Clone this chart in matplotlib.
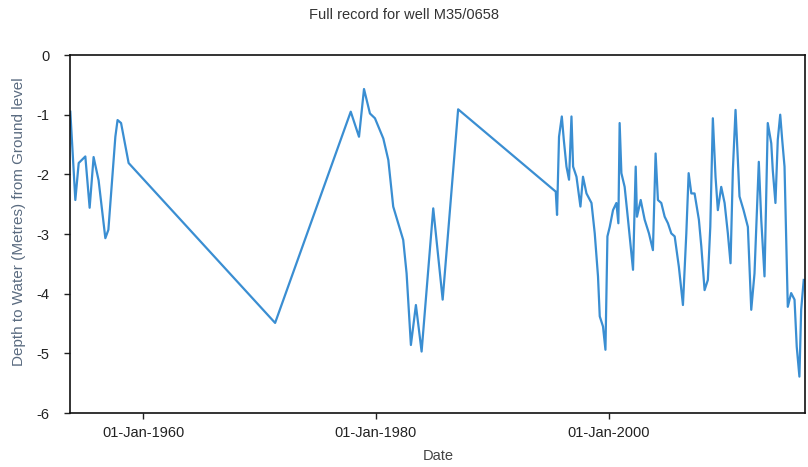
import matplotlib
matplotlib.use("Agg")
import matplotlib.pyplot as plt

# decimal years
years = [1953.73, 1954.16, 1954.45, 1955.02, 1955.39, 1955.73, 1956.16, 1956.74,
         1957.00, 1957.60, 1957.79, 1958.09, 1958.74,
         1971.33,
         1977.83, 1978.54, 1978.97, 1979.48, 1979.91, 1980.63, 1981.06, 1981.48,
         1982.34, 1982.63, 1983.00, 1983.43, 1983.92, 1984.92, 1985.73, 1987.06,
         1995.45, 1995.56, 1995.73, 1995.97, 1996.14, 1996.37, 1996.59, 1996.80,
         1996.94, 1997.23, 1997.57, 1997.79, 1998.09, 1998.52, 1998.80, 1999.08,
         1999.23, 1999.51, 1999.72, 1999.89, 2000.09, 2000.37, 2000.66, 2000.83,
         2000.94, 2001.09, 2001.37, 2001.66, 2002.09, 2002.32, 2002.43, 2002.75,
         2003.09, 2003.46, 2003.80, 2004.03, 2004.23, 2004.52, 2004.81, 2005.09,
         2005.38, 2005.67, 2006.03, 2006.38, 2006.67, 2006.87, 2007.10, 2007.38,
         2007.75, 2007.96, 2008.24, 2008.52, 2008.73, 2008.95, 2009.18, 2009.38,
         2009.67, 2009.96, 2010.24, 2010.47, 2010.67, 2010.90, 2011.10, 2011.24,
         2011.59, 2011.96, 2012.25, 2012.53, 2012.90, 2013.11, 2013.39, 2013.67,
         2013.97, 2014.10, 2014.33, 2014.53, 2014.74, 2014.91, 2015.11, 2015.39,
         2015.68, 2015.97, 2016.16, 2016.39, 2016.54, 2016.76]

depth = [-0.95, -2.43, -1.81, -1.70, -2.56, -1.71, -2.10, -3.07,
         -2.93, -1.37, -1.09, -1.14, -1.81,
         -4.49,
         -0.95, -1.37, -0.57, -0.98, -1.06, -1.40, -1.76, -2.54,
         -3.10, -3.66, -4.86, -4.19, -4.97, -2.57, -4.10, -0.91,
         -2.29, -2.68, -1.37, -1.03, -1.42, -1.87, -2.09, -1.03,
         -1.87, -2.04, -2.54, -2.04, -2.32, -2.48, -2.99, -3.71,
         -4.38, -4.55, -4.94, -3.04, -2.88, -2.60, -2.48, -2.82,
         -1.14, -1.98, -2.21, -2.76, -3.60, -1.87, -2.71, -2.43,
         -2.76, -2.99, -3.27, -1.65, -2.43, -2.48, -2.71, -2.82,
         -2.99, -3.04, -3.55, -4.19, -2.99, -1.98, -2.32, -2.32,
         -2.76, -3.21, -3.94, -3.77, -2.88, -1.06, -2.04, -2.60,
         -2.21, -2.48, -2.99, -3.49, -1.93, -0.92, -1.76, -2.37,
         -2.60, -2.88, -4.27, -3.66, -1.79, -2.76, -3.71, -1.14,
         -1.48, -1.93, -2.48, -1.42, -1.00, -1.42, -1.87, -4.22,
         -3.99, -4.10, -4.89, -5.39, -4.27, -3.77]

tick_years = [1960, 1980, 2000]
tick_labels = ["01-Jan-1960", "01-Jan-1980", "01-Jan-2000"]
y_ticks = [0, -1, -2, -3, -4, -5, -6]

plt.rcParams['font.family'] = ['Liberation Sans', 'DejaVu Sans']
plt.rcParams['axes.unicode_minus'] = False

fig = plt.figure(figsize=(8.08, 4.67), dpi=100)
ax = fig.add_axes([0.0866, 0.1156, 0.9094, 0.7666])

ax.plot(years, depth, color='#3a8ed2', linewidth=1.6)

ax.set_xlim(1953.7, 2016.85)
ax.set_ylim(-6, 0)
ax.set_xticks(tick_years)
ax.set_xticklabels(tick_labels)
ax.set_yticks(y_ticks)
ax.tick_params(axis='x', labelsize=10.5, colors='#222222', length=4, width=1, pad=5)
ax.tick_params(axis='y', labelsize=10.5, colors='#222222', length=4.5, width=1, pad=10)

for s in ax.spines.values():
    s.set_color('#111111')
    s.set_linewidth(1.2)

# title, axis names placed in figure coords like the original
fig.text(0.5, 0.968, "Full record for well M35/0658", fontsize=10.5,
         color='#333333', ha='center', va='center')
fig.text(438 / 808, 0.024, "Date", fontsize=10.5, color='#444444',
         ha='center', va='center')
fig.text(19 / 808, 0.525, "Depth to Water (Metres) from Ground level",
         fontsize=11, color='#5a6b80', rotation=90, ha='center', va='center')

fig.savefig("out.png", dpi=100)
